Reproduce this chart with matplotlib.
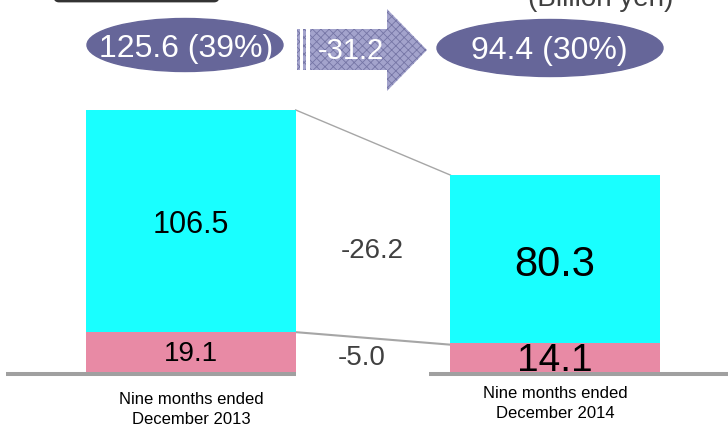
import matplotlib
matplotlib.use('Agg')
import matplotlib.pyplot as plt
from matplotlib.patches import Ellipse, Polygon, Rectangle, FancyBboxPatch

plt.rcParams['font.family'] = ['Liberation Sans', 'DejaVu Sans']

# data (billion yen)
periods = ['Nine months ended\nDecember 2013', 'Nine months ended\nDecember 2014']
lower_vals = [19.1, 14.1]     # pink segment
upper_vals = [106.5, 80.3]    # cyan segment
totals = [125.6, 94.4]
shares = ['39%', '30%']
lower_change = '-5.0'
upper_change = '-26.2'
total_change = '-31.2'

CYAN = '#19ffff'
PINK = '#e88aa5'
OVAL = '#666699'
GREY = '#a6a6a6'

fig = plt.figure(figsize=(7.28, 4.32), dpi=100)
ax = fig.add_axes([0, 0, 1, 1])
ax.set_xlim(-0.5247, 1.4753)
ax.set_ylim(-28.76, 178.3)
ax.axis('off')

x = [0, 1]
w = 0.575
ax.bar(x, lower_vals, width=w, color=PINK, zorder=2)
ax.bar(x, upper_vals, width=w, bottom=lower_vals, color=CYAN, zorder=2)

# connector lines between the bars
ax.plot([x[0] + w/2, x[1] - w/2], [totals[0], totals[1]], color=GREY, lw=1, zorder=1)
ax.plot([x[0] + w/2, x[1] - w/2], [lower_vals[0], lower_vals[1] - 1], color=GREY, lw=1.5, zorder=1)

# base line (broken where the -5.0 label sits)
ax.plot([-0.508, x[0] + w/2], [-1.0, -1.0], color='#a0a0a0', lw=2.9, zorder=1, solid_capstyle='butt')
ax.plot([0.654, 1.5], [-1.0, -1.0], color='#a0a0a0', lw=2.9, zorder=1, solid_capstyle='butt')

# value labels
ax.text(x[0], lower_vals[0] + upper_vals[0]/2 - 1.9, '%.1f' % upper_vals[0], ha='center', va='center', fontsize=22, zorder=4)
ax.text(x[1], lower_vals[1] + upper_vals[1]/2 - 3.0, '%.1f' % upper_vals[1], ha='center', va='center', fontsize=30, zorder=4)
ax.text(x[0], lower_vals[0]/2 - 1.0, '%.1f' % lower_vals[0], ha='center', va='center', fontsize=20, zorder=4)
ax.text(x[1], lower_vals[1]/2 - 2.0, '%.1f' % lower_vals[1], ha='center', va='center', fontsize=28, zorder=4)
ax.text(0.497, 58.0, upper_change, ha='center', va='center', fontsize=20, color='#404040', zorder=4)
ax.text(0.47, 6.8, lower_change, ha='center', va='center', fontsize=20, color='#404040', zorder=4)

# category labels under the bars
ax.text(x[0], -18.0, periods[0], ha='center', va='center', fontsize=12, linespacing=1.35)
ax.text(x[1], -15.1, periods[1], ha='center', va='center', fontsize=12, linespacing=1.35)

# decorations on top, in pixel coordinates
deco = fig.add_axes([0, 0, 1, 1], zorder=3)
deco.set_xlim(0, 728)
deco.set_ylim(432, 0)
deco.axis('off')
deco.patch.set_alpha(0)

deco.add_patch(FancyBboxPatch((55, -40), 163, 41, boxstyle='round,pad=0,rounding_size=4',
                              fc='white', ec='#333333', lw=2))

deco.add_patch(Ellipse((185, 45), 196, 53, color=OVAL))
deco.add_patch(Ellipse((550, 48), 226, 57, color=OVAL))
deco.text(186, 49, '%.1f (%s)' % (totals[0], shares[0]), ha='center', va='center', fontsize=23, color='white')
deco.text(549, 51, '%.1f (%s)' % (totals[1], shares[1]), ha='center', va='center', fontsize=23, color='white')

plt.rcParams['hatch.linewidth'] = 0.6
arrow = [(310, 29), (387, 29), (387, 9), (427, 50), (387, 91), (387, 70), (310, 70)]
deco.add_patch(Polygon(arrow, closed=True, fc='#a3a3cc', ec='#7575a5', lw=0, hatch='xxxx'))
deco.add_patch(Rectangle((297, 29), 3, 41, fc='#a3a3cc', ec='#7575a5', lw=0, hatch='xxxx'))
deco.add_patch(Rectangle((303, 29), 3, 41, fc='#a3a3cc', ec='#7575a5', lw=0, hatch='xxxx'))
deco.text(351, 51, total_change, ha='center', va='center', fontsize=21, color='white')

deco.text(601, 6, '(Billion yen)', ha='center', va='baseline', fontsize=20, color='#404040')

fig.savefig('out.png', dpi=100)
